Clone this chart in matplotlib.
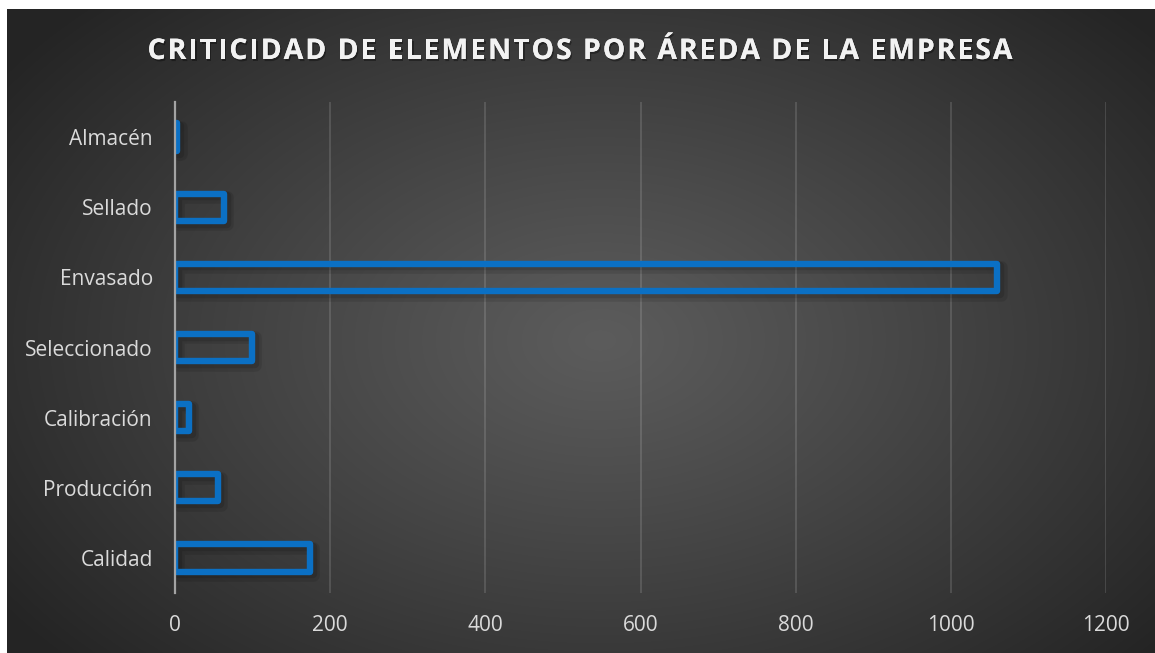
import numpy as np
import matplotlib
matplotlib.use("Agg")
import matplotlib.pyplot as plt
import matplotlib.patheffects as pe
from matplotlib import font_manager
from matplotlib.ft2font import FT2Font

# Areas (bottom to top) and criticality totals
areas = ["Calidad", "Producción", "Calibración", "Seleccionado", "Envasado", "Sellado", "Almacén"]
criticidad = [174, 55, 18, 99, 1060, 63, 3]
x_ticks = [0, 200, 400, 600, 800, 1000, 1200]
title = "CRITICIDAD DE ELEMENTOS POR ÁREDA DE LA EMPRESA"

W, H, DPI = 1155, 653, 100
fig = plt.figure(figsize=(W / DPI, H / DPI), dpi=DPI, facecolor="white")

# Dark radial-gradient panel behind the chart
bg_left, bg_top = 7, 9
bw, bh = W - bg_left, H - bg_top
yy, xx = np.mgrid[0:bh, 0:bw]
cx, cy = 600 - bg_left, 340 - bg_top
r = np.sqrt(((xx - cx) / 720.0) ** 2 + ((yy - cy) / 470.0) ** 2)
r = np.clip(r, 0, 1)
v = 0.36 + (0.145 - 0.36) * r ** 1.1
bg = np.dstack([v, v, v])
bax = fig.add_axes([bg_left / W, 0, bw / W, bh / H])
bax.imshow(bg, aspect="auto", interpolation="bilinear")
bax.set_axis_off()
bax.set_zorder(0)

# Main plotting area
ax = fig.add_axes([175 / W, 1 - 593 / H, (1106 - 175) / W, (593 - 102) / H])
ax.set_zorder(1)
ax.patch.set_alpha(0)

y = np.arange(len(areas))
bars = ax.barh(y, criticidad, height=0.39, facecolor="none", edgecolor="#0B70C4",
               linewidth=4.6, joinstyle="round", zorder=3)
for b in bars:
    b.set_path_effects([
        pe.Stroke(linewidth=9, foreground="black", alpha=0.10, offset=(2.5, -2.5)),
        pe.Stroke(linewidth=6, foreground="black", alpha=0.12, offset=(2, -2)),
        pe.Normal(),
    ])

ax.set_xlim(0, 1200)
ax.set_ylim(-0.5, len(areas) - 0.5)
ax.set_xticks(x_ticks)
ax.set_xticklabels([str(t) for t in x_ticks])
ax.set_yticks(y)
ax.set_yticklabels(areas)

ax.grid(axis="x", color="white", alpha=0.14, linewidth=1.3, zorder=1)
ax.set_axisbelow(True)
for s in ["top", "right", "bottom"]:
    ax.spines[s].set_visible(False)
ax.spines["left"].set_color("#a3a3a3")
ax.spines["left"].set_linewidth(1.6)
ax.spines["left"].set_zorder(5)

ax.tick_params(axis="x", length=0, pad=16, labelsize=15, labelcolor="#dadada")
ax.tick_params(axis="y", length=0, pad=16, labelsize=15, labelcolor="#dadada")
for lab in ax.get_xticklabels() + ax.get_yticklabels():
    lab.set_fontfamily("Open Sans")

# Letter-spaced bold title with a soft drop shadow
tprop = font_manager.FontProperties(family="Open Sans", weight="bold", size=20.5)
tfont = FT2Font(font_manager.findfont(tprop))
tfont.set_size(20.5, DPI)
adv = [tfont.load_char(ord(c)).linearHoriAdvance / 65536.0 for c in title]
target_w = 865.0
spacing = (target_w - sum(adv)) / (len(title) - 1)
x0 = 580 - target_w / 2
title_base = 59
for c, a in zip(title, adv):
    fig.text(x0 / W, 1 - title_base / H, c, fontproperties=tprop, color="#f2f2f2",
             ha="left", va="baseline", zorder=10,
             path_effects=[pe.withSimplePatchShadow(offset=(1.0, -1.5), shadow_rgbFace="black", alpha=0.35),
                           pe.Normal()])
    x0 += a + spacing

fig.savefig("out.png", dpi=DPI, facecolor="white")
